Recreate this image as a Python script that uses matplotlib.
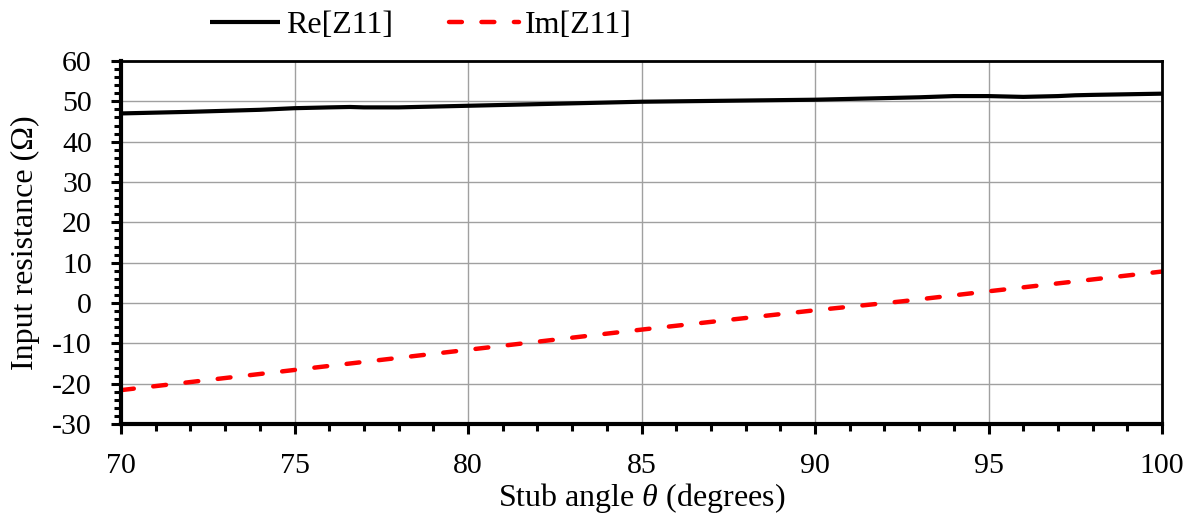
import numpy as np
import matplotlib
matplotlib.use("Agg")
import matplotlib.pyplot as plt
from matplotlib.ticker import MultipleLocator

plt.rcParams['font.family'] = ['Liberation Serif', 'DejaVu Serif']
plt.rcParams['mathtext.fontset'] = 'custom'
plt.rcParams['mathtext.it'] = 'Liberation Serif:italic'
plt.rcParams['mathtext.rm'] = 'Liberation Serif'
plt.rcParams['axes.unicode_minus'] = False

# stub angle (degrees)
angle = [70, 72, 74, 75, 76, 76.6, 77, 78, 80, 82, 84, 85, 86, 88, 90, 92, 93, 94, 95, 96, 97, 97.5, 98, 100]
re_z11 = [47.0, 47.4, 47.9, 48.3, 48.5, 48.6, 48.5, 48.5, 48.9, 49.3, 49.7, 49.9, 50.0, 50.2, 50.4, 50.8, 51.0, 51.3, 51.3, 51.1, 51.3, 51.5, 51.6, 51.9]
im_angle = [70, 75, 80, 85, 90, 92.5, 95, 100]
im_z11 = [-21.6, -16.6, -11.6, -6.6, -1.8, 0.4, 2.9, 7.8]

fig = plt.figure(figsize=(11.97, 5.15), dpi=100)
ax = fig.add_axes([121/1197, 1 - 424/515, (1162-121)/1197, (424-61)/515])

ax.plot(angle, re_z11, color='black', lw=3.0, label='Re[Z11]', solid_capstyle='butt')
ax.plot(im_angle, im_z11, color='#ff0000', lw=3.2, ls=(0, (2.9, 4.4)), dash_capstyle='round',
        label='Im[Z11]')

ax.set_xlim(70, 100)
ax.set_ylim(-30, 60)
ax.xaxis.set_major_locator(MultipleLocator(5))
ax.xaxis.set_minor_locator(MultipleLocator(1))
ax.yaxis.set_major_locator(MultipleLocator(10))
ax.yaxis.set_minor_locator(MultipleLocator(2))
ax.grid(True, which='major', color='#a0a0a0', lw=1.0)
ax.set_axisbelow(True)

ax.tick_params(which='both', direction='out', width=2.2, labelsize=21.5, color='black')
ax.tick_params(which='major', length=7)
ax.tick_params(which='minor', length=5)
ax.tick_params(axis='x', which='both', pad=14)
ax.tick_params(axis='y', which='major', pad=14)
for side in ['left', 'bottom']:
    ax.spines[side].set_linewidth(3.0)
for side in ['top', 'right']:
    ax.spines[side].set_linewidth(2.0)

ax.set_xlabel(r'Stub angle $\mathit{\theta}$ (degrees)', fontsize=23, labelpad=1)
ax.set_ylabel('Input resistance (Ω)', fontsize=23, labelpad=9)

ax.legend(loc='center', bbox_to_anchor=(0.288, 1.099), ncol=2, frameon=False,
          fontsize=23, handlelength=2.2, handletextpad=0.18, columnspacing=1.75,
          borderaxespad=0.0, borderpad=0.0)

fig.savefig('out.png', dpi=100)
